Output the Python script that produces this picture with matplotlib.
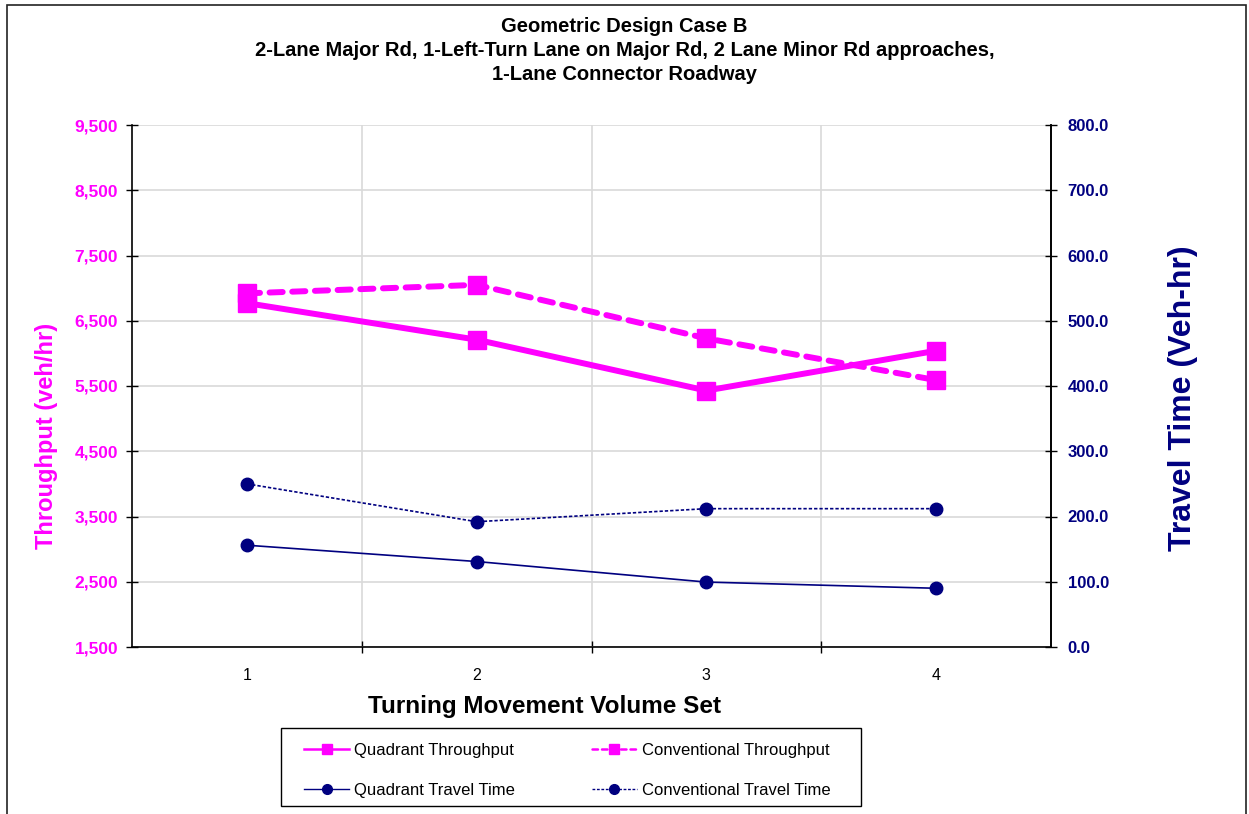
import matplotlib
matplotlib.use("Agg")
import matplotlib.pyplot as plt
from matplotlib.patches import Rectangle
from matplotlib.ticker import FuncFormatter

# ---- data ----
volume_sets = [1, 2, 3, 4]
quadrant_throughput = [6770, 6210, 5430, 6040]
conventional_throughput = [6920, 7050, 6230, 5590]
quadrant_travel_time = [156, 131, 99.5, 90]
conventional_travel_time = [250, 192, 212, 212]

title_lines = ["Geometric Design Case B",
               "2-Lane Major Rd, 1-Left-Turn Lane on Major Rd, 2 Lane Minor Rd approaches,",
               "1-Lane Connector Roadway"]

MAG = "#FF00FF"
NAVY = "#000080"
FONT = "Liberation Sans"

plt.rcParams['font.family'] = [FONT, 'DejaVu Sans']

W, H = 1249, 814
fig = plt.figure(figsize=(W / 100, H / 100), dpi=100)

# outer frame
fig.patches.append(Rectangle((7 / W, -0.1), (1246 - 7) / W, (H - 5) / H + 0.1,
                             transform=fig.transFigure, fill=False,
                             edgecolor="#222222", linewidth=1.2))

ax = fig.add_axes([132 / W, 1 - 647 / H, (1051 - 132) / W, (647 - 125) / H])
ax2 = ax.twinx()

# throughput lines
l1, = ax.plot(volume_sets, quadrant_throughput, color=MAG, lw=4.3, marker='s',
              markersize=13, label="Quadrant Throughput", zorder=3)
l2, = ax.plot(volume_sets, conventional_throughput, color=MAG, lw=4.3, marker='s',
              markersize=13, label="Conventional Throughput", dashes=(2.2, 1.6),
              dash_capstyle='round', zorder=3)
# travel time lines
l3, = ax2.plot(volume_sets, quadrant_travel_time, color=NAVY, lw=1.2, marker='o',
               markersize=9, label="Quadrant Travel Time", zorder=3)
l4, = ax2.plot(volume_sets, conventional_travel_time, color=NAVY, lw=1.2, marker='o',
               markersize=9, label="Conventional Travel Time", dashes=(2, 1.2), zorder=3)

ax.set_xlim(0.5, 4.5)
ax.set_ylim(1500, 9500)
ax.set_yticks(range(1500, 9501, 1000))
ax.yaxis.set_major_formatter(FuncFormatter(lambda v, p: f"{int(v):,}"))
ax2.set_ylim(0, 800)
ax2.set_yticks(range(0, 801, 100))
ax2.yaxis.set_major_formatter(FuncFormatter(lambda v, p: f"{v:.1f}"))

ax.set_xticks([1.5, 2.5, 3.5])
ax.set_xticklabels([])
ax.set_xticks(volume_sets, minor=True)
ax.set_xticklabels([str(v) for v in volume_sets], minor=True)
ax.tick_params(axis='x', which='minor', length=0, pad=15, labelsize=11.5)
ax.tick_params(axis='x', which='major', direction='inout', length=8, width=1)

ax.grid(True, which='major', axis='both', color="#D9D9D9", lw=1.2)
ax.set_axisbelow(True)

for a in (ax, ax2):
    a.spines['top'].set_visible(False)
    for s in a.spines.values():
        s.set_linewidth(1.2)
ax2.spines['left'].set_visible(False)
ax2.spines['bottom'].set_visible(False)

ax.tick_params(axis='y', direction='inout', length=8, width=1, labelsize=12.5,
               labelcolor=MAG, pad=6)
for t in ax.get_yticklabels():
    t.set_fontweight('bold')
ax2.tick_params(axis='y', direction='inout', length=8, width=1, labelsize=12,
                labelcolor=NAVY, pad=8)
for t in ax2.get_yticklabels():
    t.set_fontweight('bold')

ax.set_ylabel("Throughput (veh/hr)", color=MAG, fontsize=17, fontweight='bold')
ax.yaxis.set_label_coords((47 - 132) / 919, (647 - 436) / 522)
ax.yaxis.label.set_va('center')
ax2.set_ylabel("Travel Time (Veh-hr)", color=NAVY, fontsize=23, fontweight='bold')
ax2.yaxis.set_label_coords((1183 - 132) / 919, (647 - 398) / 522)
ax2.yaxis.label.set_va('center')
ax.set_xlabel("Turning Movement Volume Set", fontsize=17.5, fontweight='bold')
ax.xaxis.set_label_coords((545 - 132) / 919, -(706 - 647) / 522)
ax.xaxis.label.set_va('center')

for i, line in enumerate(title_lines):
    fig.text(0.5, 1 - (27 + 23.5 * i) / H, line, ha='center', va='center',
             fontsize=14.5, fontweight='bold')

# legend box
fig.patches.append(Rectangle((281 / W, 1 - 806 / H), (861 - 281) / W, (806 - 728) / H,
                             transform=fig.transFigure, fill=False,
                             edgecolor='black', linewidth=1.0))
leg = fig.legend(handles=[l1, l3, l2, l4], ncol=2, loc='upper left',
                 bbox_to_anchor=(304 / W, 1 - 743 / H),
                 frameon=False, fontsize=12, handlelength=2.7, borderpad=0,
                 labelspacing=1.5, columnspacing=4.6, handletextpad=0.3,
                 borderaxespad=0)
for h in leg.legend_handles:
    if h.get_marker() == 's':
        h.set_markersize(7.5)
        h.set_linewidth(1.8)
    else:
        h.set_markersize(7)
        h.set_linewidth(1.0)

fig.savefig("out.png", dpi=100)
